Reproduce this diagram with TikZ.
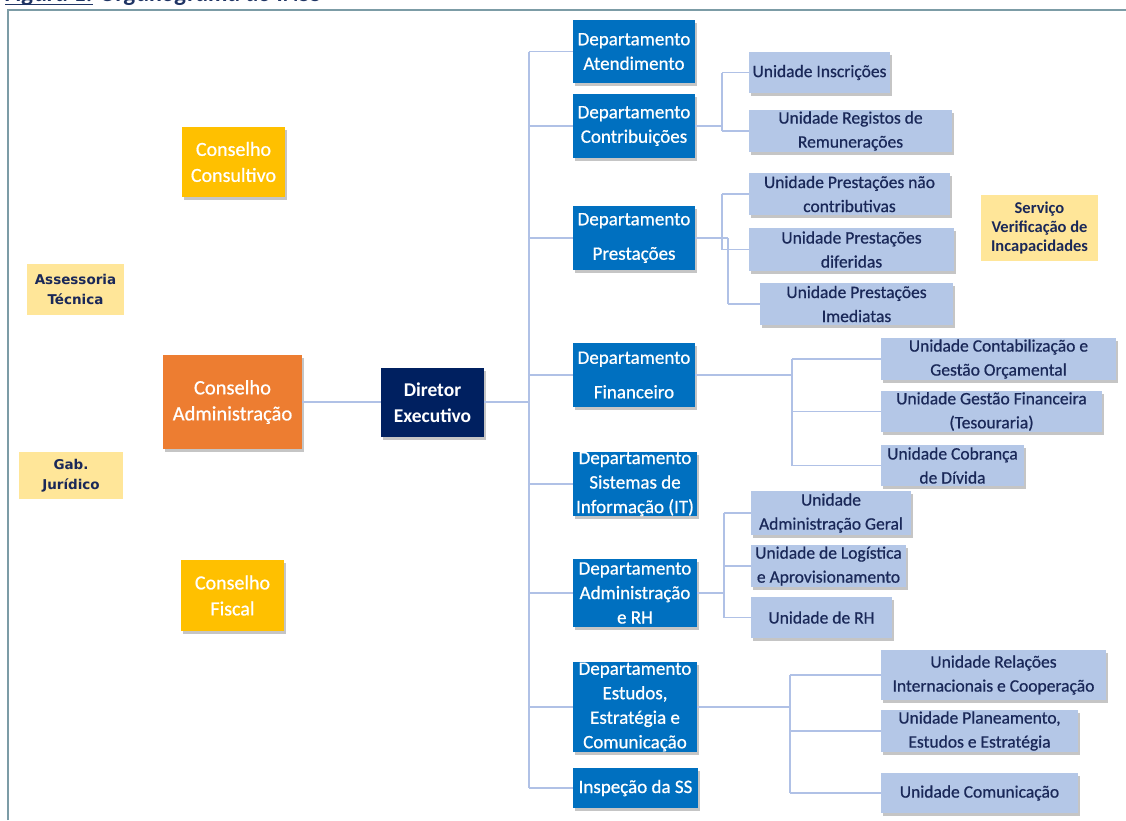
\documentclass[tikz,border=0pt]{standalone}
\usepackage{fontspec}
\setmainfont{Carlito}
\newfontfamily\verdfont{DejaVu Sans}
\newfontfamily\medfont{Carlito}[FakeBold=0.7]
\usetikzlibrary{shadows}

\definecolor{cYellow}{HTML}{FFC000}
\definecolor{cOrange}{HTML}{ED7D31}
\definecolor{cNavy}{HTML}{002060}
\definecolor{cDept}{HTML}{0070C0}
\definecolor{cUnit}{HTML}{B4C7E7}
\definecolor{cPale}{HTML}{FFE699}
\definecolor{cText}{HTML}{1A2858}
\definecolor{cLine}{HTML}{B0C1E6}
\definecolor{cFrame}{HTML}{7C9CA6}
\definecolor{cTitle}{HTML}{1F3464}

% place a box by its left, top, right and bottom edges
\newcommand\orgbox[7]{%
  \node[#2, minimum width={#5-#3}, minimum height={#6-#4}] (#1)
    at ({(#3+#5)/2},{(#4+#6)/2}) {#7};}

\tikzset{
  orgbase/.style={rectangle, inner sep=0pt, align=center},
  shad/.style={drop shadow={shadow xshift=1.5pt, shadow yshift=-3pt,
      fill=black!75, opacity=0.3}},
  council/.style={orgbase, shad, fill=cYellow, text=white,
      font=\medfont\fontsize{20}{26}\selectfont},
  board/.style={orgbase, shad, fill=cOrange, text=white,
      font=\medfont\fontsize{20.5}{26}\selectfont},
  director/.style={orgbase, shad, fill=cNavy, text=white,
      font=\bfseries\fontsize{19.5}{26}\selectfont},
  dept/.style={orgbase, shad, fill=cDept, text=white,
      font=\medfont\fontsize{19}{24.5}\selectfont},
  unit/.style={orgbase, shad, fill=cUnit, text=cText,
      font=\medfont\fontsize{17.5}{24}\selectfont},
  advisor/.style={orgbase, fill=cPale, text=cText,
      font=\verdfont\bfseries\fontsize{13.5}{20}\selectfont},
  service/.style={orgbase, fill=cPale, text=cText,
      font=\bfseries\fontsize{16.5}{19}\selectfont},
  conn/.style={draw=cLine, line width=1.6pt},
  frameline/.style={draw=cFrame, line width=2.5pt},
}

\begin{document}
\begin{tikzpicture}[x=1pt,y=-1pt]
\useasboundingbox (0,0) rectangle (1126,820);
\clip (0,0) rectangle (1126,820);
\fill[white] (0,0) rectangle (1126,820);

% caption line above the frame (cut by the page edge)
\node[anchor=base west, inner sep=0pt, text=cTitle,
      font=\bfseries\itshape\fontsize{24}{24}\selectfont] (title) at (5,1)
  {Figura 1: Organograma do INSS};
\draw[cTitle, line width=1.5pt] (5,4.5) -- (93,4.5);

% frame
\draw[frameline] (8,820) -- (8,10) -- (1126,10);

% governing bodies
\orgbox{cons}{council}{182}{127}{285}{197}{Conselho\\Consultivo}
\orgbox{fisc}{council}{181}{560}{284}{631}{Conselho\\Fiscal}
\orgbox{adm}{board}{163}{355}{302}{449}{Conselho\\Administração}
\orgbox{dir}{director}{381}{368}{484}{437}{Diretor\\Executivo}
\orgbox{asst}{advisor}{27}{264}{124}{315}{Assessoria\\Técnica}
\orgbox{gab}{advisor}{19}{452}{123}{499}{Gab.\\Jurídico}
\orgbox{svi}{service}{981}{195}{1098}{261}{Serviço\\Verificação de\\Incapacidades}

% departments
\orgbox{dAt}{dept}{573}{20}{695}{83}{Departamento\\Atendimento}
\orgbox{dCo}{dept}{573}{94}{695}{158}{Departamento\\Contribuições}
\orgbox{dPr}{dept}{573}{206}{695}{270}{Departamento\\[10pt]Prestações}
\orgbox{dFi}{dept}{573}{343}{695}{407}{Departamento\\[10pt]Financeiro}
\orgbox{dIT}{dept}{573}{452}{697}{516}{Departamento\\Sistemas de\\Informação (IT)}
\orgbox{dAd}{dept}{573}{559}{697}{627}{Departamento\\Administração\\e RH}
\orgbox{dEs}{dept}{573}{662}{697}{752}{Departamento\\Estudos,\\Estratégia e\\Comunicação}
\orgbox{dIn}{dept}{573}{768}{698}{808}{Inspeção da SS}

% units
\orgbox{uIns}{unit}{749}{52}{890}{93}{Unidade Inscrições}
\orgbox{uReg}{unit}{749}{110}{952}{152}{Unidade Registos de\\Remunerações}
\orgbox{uPnc}{unit}{749}{173}{950}{215}{Unidade Prestações não\\contributivas}
\orgbox{uPdf}{unit}{749}{228}{954}{271}{Unidade Prestações\\diferidas}
\orgbox{uPim}{unit}{760}{283}{953}{325}{Unidade Prestações\\Imediatas}
\orgbox{uCtb}{unit}{881}{338}{1116}{380}{Unidade Contabilização e\\Gestão Orçamental}
\orgbox{uGfi}{unit}{881}{391}{1102}{432}{Unidade Gestão Financeira\\(Tesouraria)}
\orgbox{uCob}{unit}{881}{445}{1024}{486}{Unidade Cobrança\\de Dívida}
\orgbox{uAdg}{unit}{751}{491}{911}{535}{Unidade\\Administração Geral}
\orgbox{uLog}{unit}{751}{545}{906}{587}{Unidade de Logística\\e Aprovisionamento}
\orgbox{uRH}{unit}{751}{597}{892}{638}{Unidade de RH}
\orgbox{uRel}{unit}{881}{650}{1106}{700}{Unidade Relações\\Internacionais e Cooperação}
\orgbox{uPla}{unit}{881}{710}{1078}{752}{Unidade Planeamento,\\Estudos e Estratégia}
\orgbox{uCom}{unit}{881}{773}{1078}{813}{Unidade Comunicação}

% junction points of the connectors
\coordinate (tr) at (529,402);
\coordinate (bCo) at (722,0);
\coordinate (bPa) at (722,0);
\coordinate (bPb) at (728,0);
\coordinate (bFi) at (792,0);
\coordinate (bAd) at (724,0);
\coordinate (bEs) at (790,0);

% board -> director -> trunk
\draw[conn] (adm.east |- tr) -- (dir.west |- tr);
\draw[conn] (dir.east |- tr) -- (tr);
\draw[conn] (tr |- dAt.west) -- (tr |- dIn.west);
\foreach \d in {dAt,dCo,dPr,dFi,dIT,dAd,dEs,dIn}
  \draw[conn] (tr |- \d.west) -- (\d.west);

% contribuições
\draw[conn] (dCo.east) -- (bCo |- dCo.east);
\draw[conn] (bCo |- uIns.west) -- (bCo |- uReg.west);
\foreach \u in {uIns,uReg} \draw[conn] (bCo |- \u.west) -- (\u.west);

% prestações
\draw[conn] (dPr.east) -- (bPb |- dPr.east);
\draw[conn] (bPa |- uPnc.west) -- (bPa |- uPdf.west);
\draw[conn] (bPb |- dPr.east) -- (bPb |- uPim.west);
\foreach \u in {uPnc,uPdf} \draw[conn] (bPa |- \u.west) -- (\u.west);
\draw[conn] (bPb |- uPim.west) -- (uPim.west);

% financeiro
\draw[conn] (dFi.east) -- (bFi |- dFi.east);
\draw[conn] (bFi |- uCtb.west) -- (bFi |- uCob.west);
\foreach \u in {uCtb,uGfi,uCob} \draw[conn] (bFi |- \u.west) -- (\u.west);

% administração e RH
\draw[conn] (dAd.east) -- (bAd |- dAd.east);
\draw[conn] (bAd |- uAdg.west) -- (bAd |- uRH.west);
\foreach \u in {uAdg,uLog,uRH} \draw[conn] (bAd |- \u.west) -- (\u.west);

% estudos
\draw[conn] (dEs.east) -- (bEs |- dEs.east);
\draw[conn] (bEs |- uRel.west) -- (bEs |- uCom.west);
\foreach \u in {uRel,uPla,uCom} \draw[conn] (bEs |- \u.west) -- (\u.west);
\end{tikzpicture}
\end{document}
